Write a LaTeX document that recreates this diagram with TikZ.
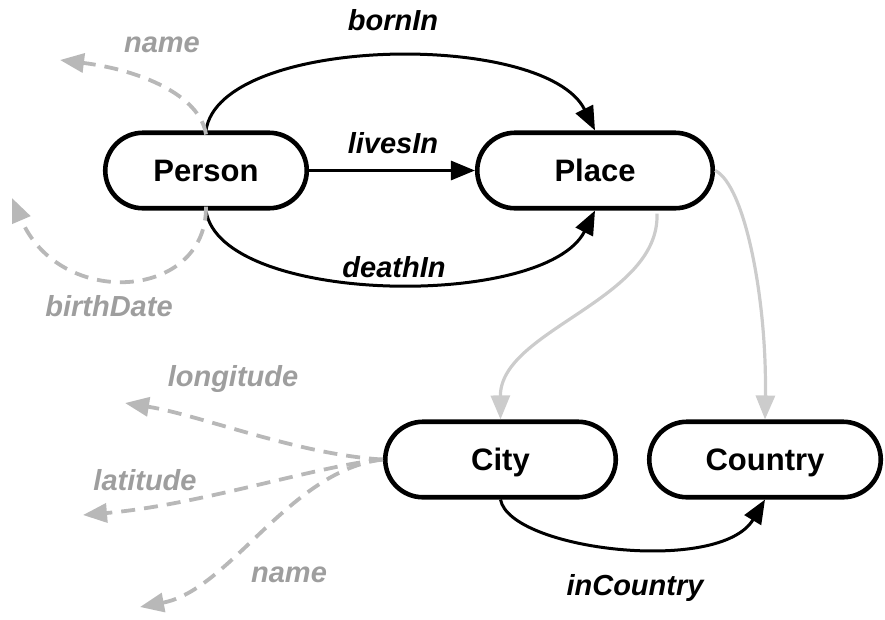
\documentclass[tikz,border=0pt]{standalone}
\usepackage{fontspec}
\setmainfont{Liberation Sans}
\usetikzlibrary{arrows.meta,shapes.misc}
\definecolor{attrgrey}{HTML}{B8B8B8}
\definecolor{labelgrey}{HTML}{9E9E9E}
\definecolor{subgrey}{HTML}{CCCCCC}
\begin{document}
\begin{tikzpicture}[x=1pt,y=-1pt,
  entity/.style={rounded rectangle, draw=black, line width=4.6pt, fill=white,
    minimum height=75.5pt, text height=22pt, text depth=0pt, inner sep=0pt,
    font=\fontsize{31}{31}\selectfont\bfseries},
  tip/.style={-{Triangle[length=24pt,width=19pt]}},
  rel/.style={draw=black, line width=3pt, tip},
  attr/.style={draw=attrgrey, line width=3.8pt, dash pattern=on 14pt off 9pt, tip},
  sub/.style={draw=subgrey, line width=3.2pt, tip},
  rlabel/.style={anchor=base, inner sep=0pt,
    font=\fontsize{29}{29}\selectfont\bfseries\itshape},
  alabel/.style={rlabel, text=labelgrey}]
\useasboundingbox (0,0) rectangle (885,619);

% classes
\node[entity, minimum width=201.5pt] (person)  at (206,170.5) {Person};
\node[entity, minimum width=235.5pt] (place)   at (595,170.5) {Place};
\node[entity, minimum width=230.5pt] (city)    at (500.5,459.5) {City};
\node[entity, minimum width=231.5pt] (country) at (765,459.5) {Country};

% object properties
\draw[rel] (person.north) .. controls (220,35) and (545,30) .. (place.north);
\draw[rel] (person.east) -- (place.west);
\draw[rel] (person.south) .. controls (220,305) and (545,310) .. (place.south);
\draw[rel] (city.south) .. controls (510,550) and (720,575) .. (country.south);

% subclass links
\draw[sub] ([xshift=62pt,yshift=-3pt]place.south) .. controls (660,300) and (500,330) .. (city.north);
\draw[sub] (place.east) .. controls (745,185) and (767,300) .. (country.north);

% data properties
\coordinate (pname)  at (60,60);
\coordinate (pbirth) at (12,198);
\coordinate (clong)  at (125,403);
\coordinate (clat)   at (83,515);
\coordinate (cname)  at (140,607);
\draw[attr] ([yshift=-4pt]person.north) .. controls (200,95) and (140,70) .. (pname);
\draw[attr] ([yshift=4pt]person.south) .. controls (207,300) and (60,310) .. (pbirth);
\draw[attr] (city.west) .. controls (300,455) and (200,415) .. (clong);
\draw[attr] (city.west) .. controls (320,465) and (200,505) .. (clat);
\draw[attr] (city.west) .. controls (290,470) and (230,590) .. (cname);

% labels
\node[rlabel] (lborn)  at (393,30)  {bornIn};
\node[rlabel] (llives) at (393,153) {livesIn};
\node[rlabel] (ldeath) at (394,277) {deathIn};
\node[rlabel] (lincty) at (635,595) {inCountry};
\node[alabel] (lpname) at (162,52)  {name};
\node[alabel] (lbirth) at (109,316) {birthDate};
\node[alabel] (llong)  at (233,386) {longitude};
\node[alabel] (llat)   at (145,490) {latitude};
\node[alabel] (lcname) at (289,582) {name};
\end{tikzpicture}
\end{document}
